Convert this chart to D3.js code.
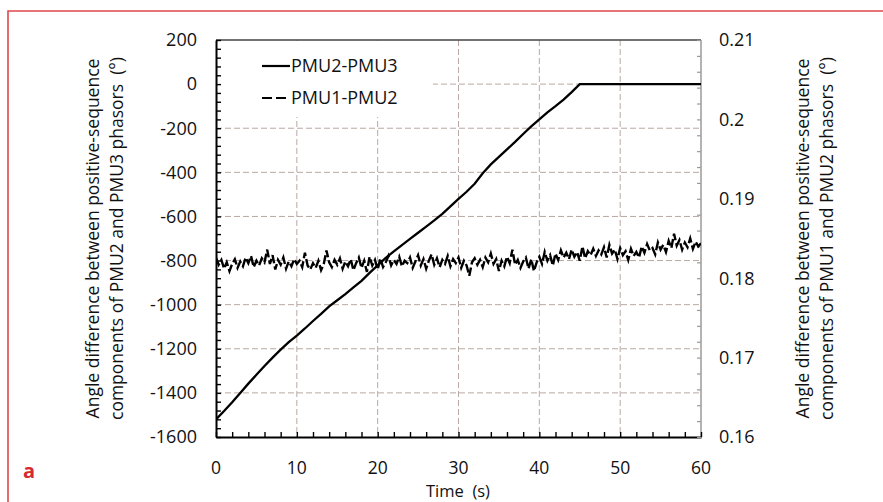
<!DOCTYPE html>
<html>
<head>
<meta charset="utf-8">
<script src="https://cdn.jsdelivr.net/npm/d3@7"></script>
<style>
  body { margin: 0; background: #fff; }
  text { font-family: "Open Sans", sans-serif; fill: #111; }
</style>
</head>
<body>
<svg id="chart"></svg>
<script>
// PMU2-PMU3 angle difference (deg), read every 1 s, then flat after 45 s
let times23 = [0, 1, 2, 3, 4, 5, 6, 7, 8, 9, 10, 11, 12, 13, 14, 15, 16, 17, 18, 19, 20,
  21, 22, 23, 24, 25, 26, 27, 28, 29, 30, 31, 32, 33, 34, 35, 36, 37, 38, 39, 40,
  41, 42, 43, 44, 45, 60];
let pmu23 = [-1520, -1482, -1442, -1400, -1358, -1318, -1278, -1240, -1204, -1170, -1140,
  -1108, -1074, -1042, -1008, -980, -952, -922, -892, -856, -822,
  -788, -758, -730, -702, -674, -646, -618, -588, -554, -520,
  -488, -452, -404, -364, -330, -296, -262, -226, -192, -160,
  -128, -100, -70, -36, 0, 0];

// PMU1-PMU2 angle difference (deg), sampled every 1/3 s from 0 to 60 s
let noiseStep = 1 / 3;
let pmu12 = [
  0.1826, 0.1817, 0.1823, 0.1812, 0.1820, 0.1809, 0.1818, 0.1824, 0.1813, 0.1821, 0.1815, 0.1826,
  0.1819, 0.1828, 0.1814, 0.1822, 0.1816, 0.1825, 0.1820, 0.1836, 0.1818, 0.1829, 0.1811, 0.1823,
  0.1817, 0.1826, 0.1812, 0.1821, 0.1815, 0.1824, 0.1818, 0.1822, 0.1814, 0.1832, 0.1816, 0.1811,
  0.1819, 0.1813, 0.1822, 0.1810, 0.1818, 0.1835, 0.1820, 0.1814, 0.1823, 0.1817, 0.1825, 0.1812,
  0.1821, 0.1815, 0.1824, 0.1810, 0.1819, 0.1826, 0.1813, 0.1822, 0.1808, 0.1827, 0.1816, 0.1823,
  0.1811, 0.1825, 0.1814, 0.1820, 0.1828, 0.1816, 0.1823, 0.1818, 0.1827, 0.1815, 0.1822, 0.1819,
  0.1826, 0.1813, 0.1821, 0.1829, 0.1816, 0.1824, 0.1812, 0.1822, 0.1830, 0.1817, 0.1825, 0.1814,
  0.1823, 0.1818, 0.1828, 0.1815, 0.1824, 0.1819, 0.1826, 0.1813, 0.1822, 0.1816, 0.1803, 0.1820,
  0.1825, 0.1817, 0.1823, 0.1814, 0.1826, 0.1820, 0.1831, 0.1818, 0.1824, 0.1809, 0.1822, 0.1815,
  0.1827, 0.1819, 0.1836, 0.1817, 0.1823, 0.1813, 0.1821, 0.1826, 0.1812, 0.1824, 0.1809, 0.1820,
  0.1827, 0.1818, 0.1833, 0.1822, 0.1829, 0.1816, 0.1831, 0.1823, 0.1835, 0.1826, 0.1832, 0.1824,
  0.1836, 0.1827, 0.1833, 0.1822, 0.1840, 0.1825, 0.1834, 0.1829, 0.1837, 0.1828, 0.1835, 0.1830,
  0.1839, 0.1826, 0.1842, 0.1831, 0.1836, 0.1824, 0.1838, 0.1829, 0.1834, 0.1823, 0.1837, 0.1828,
  0.1833, 0.1826, 0.1840, 0.1832, 0.1843, 0.1835, 0.1838, 0.1830, 0.1845, 0.1836, 0.1842, 0.1833,
  0.1847, 0.1838, 0.1856, 0.1841, 0.1848, 0.1836, 0.1845, 0.1839, 0.1850, 0.1837, 0.1846, 0.1840, 0.1844
];

let xTicks = [0, 10, 20, 30, 40, 50, 60];
let leftTicks = [200, 0, -200, -400, -600, -800, -1000, -1200, -1400, -1600];
let rightTicks = [0.21, 0.2, 0.19, 0.18, 0.17, 0.16];
let rightTickLabels = ["0.21", "0.2", "0.19", "0.18", "0.17", "0.16"];
let legendNames = ["PMU2-PMU3", "PMU1-PMU2"];

let W = 883, H = 502;
let plot = { left: 216, top: 40, right: 701, bottom: 437 };

let svg = d3.select("#chart").attr("width", W).attr("height", H);

// red frame of the figure
svg.append("path")
  .attr("d", `M8,${H} L8,11 L${W},11`)
  .attr("fill", "none")
  .attr("stroke", "#e0474c")
  .attr("stroke-width", 1.6);

let x = d3.scaleLinear().domain([0, 60]).range([plot.left, plot.right]);
let yL = d3.scaleLinear().domain([-1600, 200]).range([plot.bottom, plot.top]);
let yR = d3.scaleLinear().domain([0.16, 0.21]).range([plot.bottom, plot.top]);

// grid
let grid = svg.append("g")
  .attr("stroke", "#b9a8a3")
  .attr("stroke-width", 1)
  .attr("stroke-dasharray", "6,3");
grid.selectAll(".gh")
  .data(leftTicks.filter(d => d > -1600 && d < 200))
  .join("line")
  .attr("x1", plot.left).attr("x2", plot.right)
  .attr("y1", d => yL(d)).attr("y2", d => yL(d));
grid.selectAll(".gv")
  .data(xTicks.filter(d => d > 0 && d < 60))
  .join("line")
  .attr("x1", d => x(d)).attr("x2", d => x(d))
  .attr("y1", plot.top).attr("y2", plot.bottom);

// legend background hides grid behind it
svg.append("rect")
  .attr("x", plot.left + 1).attr("y", plot.top + 1)
  .attr("width", 216).attr("height", 76)
  .attr("fill", "#fff");

// frame lines
svg.append("line")
  .attr("x1", plot.left).attr("x2", plot.right)
  .attr("y1", plot.top).attr("y2", plot.top)
  .attr("stroke", "#444").attr("stroke-width", 1.5);
svg.append("line")
  .attr("x1", plot.right).attr("x2", plot.right)
  .attr("y1", plot.top).attr("y2", plot.bottom)
  .attr("stroke", "#9a9a9a").attr("stroke-width", 1.5);

// minor ticks (inward)
let axB = svg.append("g")
  .attr("transform", `translate(0,${plot.bottom})`)
  .call(d3.axisBottom(x).tickValues(d3.range(0, 61, 2)).tickSize(-5).tickSizeOuter(0).tickFormat(""));
axB.select(".domain").attr("stroke", "#000").attr("stroke-width", 2);
axB.selectAll(".tick line").attr("stroke", "#000").attr("stroke-width", 1.4);

let axL = svg.append("g")
  .attr("transform", `translate(${plot.left},0)`)
  .call(d3.axisLeft(yL).tickValues(d3.range(-1600, 201, 40)).tickSize(-5).tickSizeOuter(0).tickFormat(""));
axL.select(".domain").attr("stroke", "#000").attr("stroke-width", 2);
axL.selectAll(".tick line").attr("stroke", "#000").attr("stroke-width", 1.4);

let axR = svg.append("g")
  .attr("transform", `translate(${plot.right},0)`)
  .call(d3.axisRight(yR).tickValues(d3.range(80, 106, 1).map(d => d * 0.002)).tickSize(-4).tickSizeOuter(0).tickFormat(""));
axR.select(".domain").remove();
axR.selectAll(".tick line").attr("stroke", "#9a9a9a").attr("stroke-width", 1.2);

// tick labels
svg.append("g").selectAll("text")
  .data(xTicks)
  .join("text")
  .attr("x", d => x(d)).attr("y", 474)
  .attr("text-anchor", "middle")
  .style("font-size", "17.5px")
  .text(d => d);
svg.append("g").selectAll("text")
  .data(leftTicks)
  .join("text")
  .attr("x", 197).attr("y", d => yL(d))
  .attr("dy", "0.35em")
  .attr("text-anchor", "end")
  .style("font-size", "18px")
  .text(d => d);
svg.append("g").selectAll("text")
  .data(rightTicks)
  .join("text")
  .attr("x", 719).attr("y", d => yR(d))
  .attr("dy", "0.35em")
  .style("font-size", "18px")
  .text((d, i) => rightTickLabels[i]);

// axis titles
svg.append("text")
  .attr("x", 458).attr("y", 497)
  .attr("text-anchor", "middle")
  .style("font-size", "16.5px")
  .text("Time\u00a0 (s)");

let midY = (plot.top + plot.bottom) / 2;
let leftTitle = svg.append("text")
  .attr("transform", `translate(99,${midY}) rotate(-90)`)
  .attr("text-anchor", "middle")
  .style("font-size", "17.5px");
leftTitle.append("tspan").attr("x", 0).attr("y", 0).text("Angle difference between positive-sequence");
leftTitle.append("tspan").attr("x", 0).attr("y", 24).text("components of PMU2 and PMU3 phasors\u00a0 (°)");

let rightTitle = svg.append("text")
  .attr("transform", `translate(809,${midY}) rotate(-90)`)
  .attr("text-anchor", "middle")
  .style("font-size", "17.5px");
rightTitle.append("tspan").attr("x", 0).attr("y", 0).text("Angle difference between positive-sequence");
rightTitle.append("tspan").attr("x", 0).attr("y", 24).text("components of PMU1 and PMU2 phasors\u00a0 (°)");

// panel letter
svg.append("text")
  .attr("x", 23).attr("y", 478)
  .style("font-size", "20px")
  .style("font-weight", "bold")
  .style("fill", "#d42a30")
  .text("a");

// data lines
svg.append("clipPath").attr("id", "clip")
  .append("rect")
  .attr("x", plot.left).attr("y", plot.top)
  .attr("width", plot.right - plot.left).attr("height", plot.bottom - plot.top);

let lineL = d3.line().x(d => x(d[0])).y(d => yL(d[1]));
let lineR = d3.line().x(d => x(d[0])).y(d => yR(d[1]));

svg.append("path")
  .attr("clip-path", "url(#clip)")
  .attr("d", lineR(pmu12.map((v, i) => [i * noiseStep, v])))
  .attr("fill", "none")
  .attr("stroke", "#000")
  .attr("stroke-width", 2.4)
  .attr("stroke-dasharray", "9,3");

svg.append("path")
  .attr("clip-path", "url(#clip)")
  .attr("d", lineL(times23.map((t, i) => [t, pmu23[i]])))
  .attr("fill", "none")
  .attr("stroke", "#000")
  .attr("stroke-width", 2.3);

// legend
let legend = svg.append("g");
legendNames.forEach(function(name, i) {
  let ly = 66 + i * 32;
  legend.append("line")
    .attr("x1", 262).attr("x2", 290)
    .attr("y1", ly).attr("y2", ly)
    .attr("stroke", "#000")
    .attr("stroke-width", 2.2)
    .attr("stroke-dasharray", i === 0 ? null : "10,4");
  legend.append("text")
    .attr("x", 291).attr("y", ly)
    .attr("dy", "0.35em")
    .style("font-size", "18px")
    .text(name);
});
</script>
</body>
</html>
